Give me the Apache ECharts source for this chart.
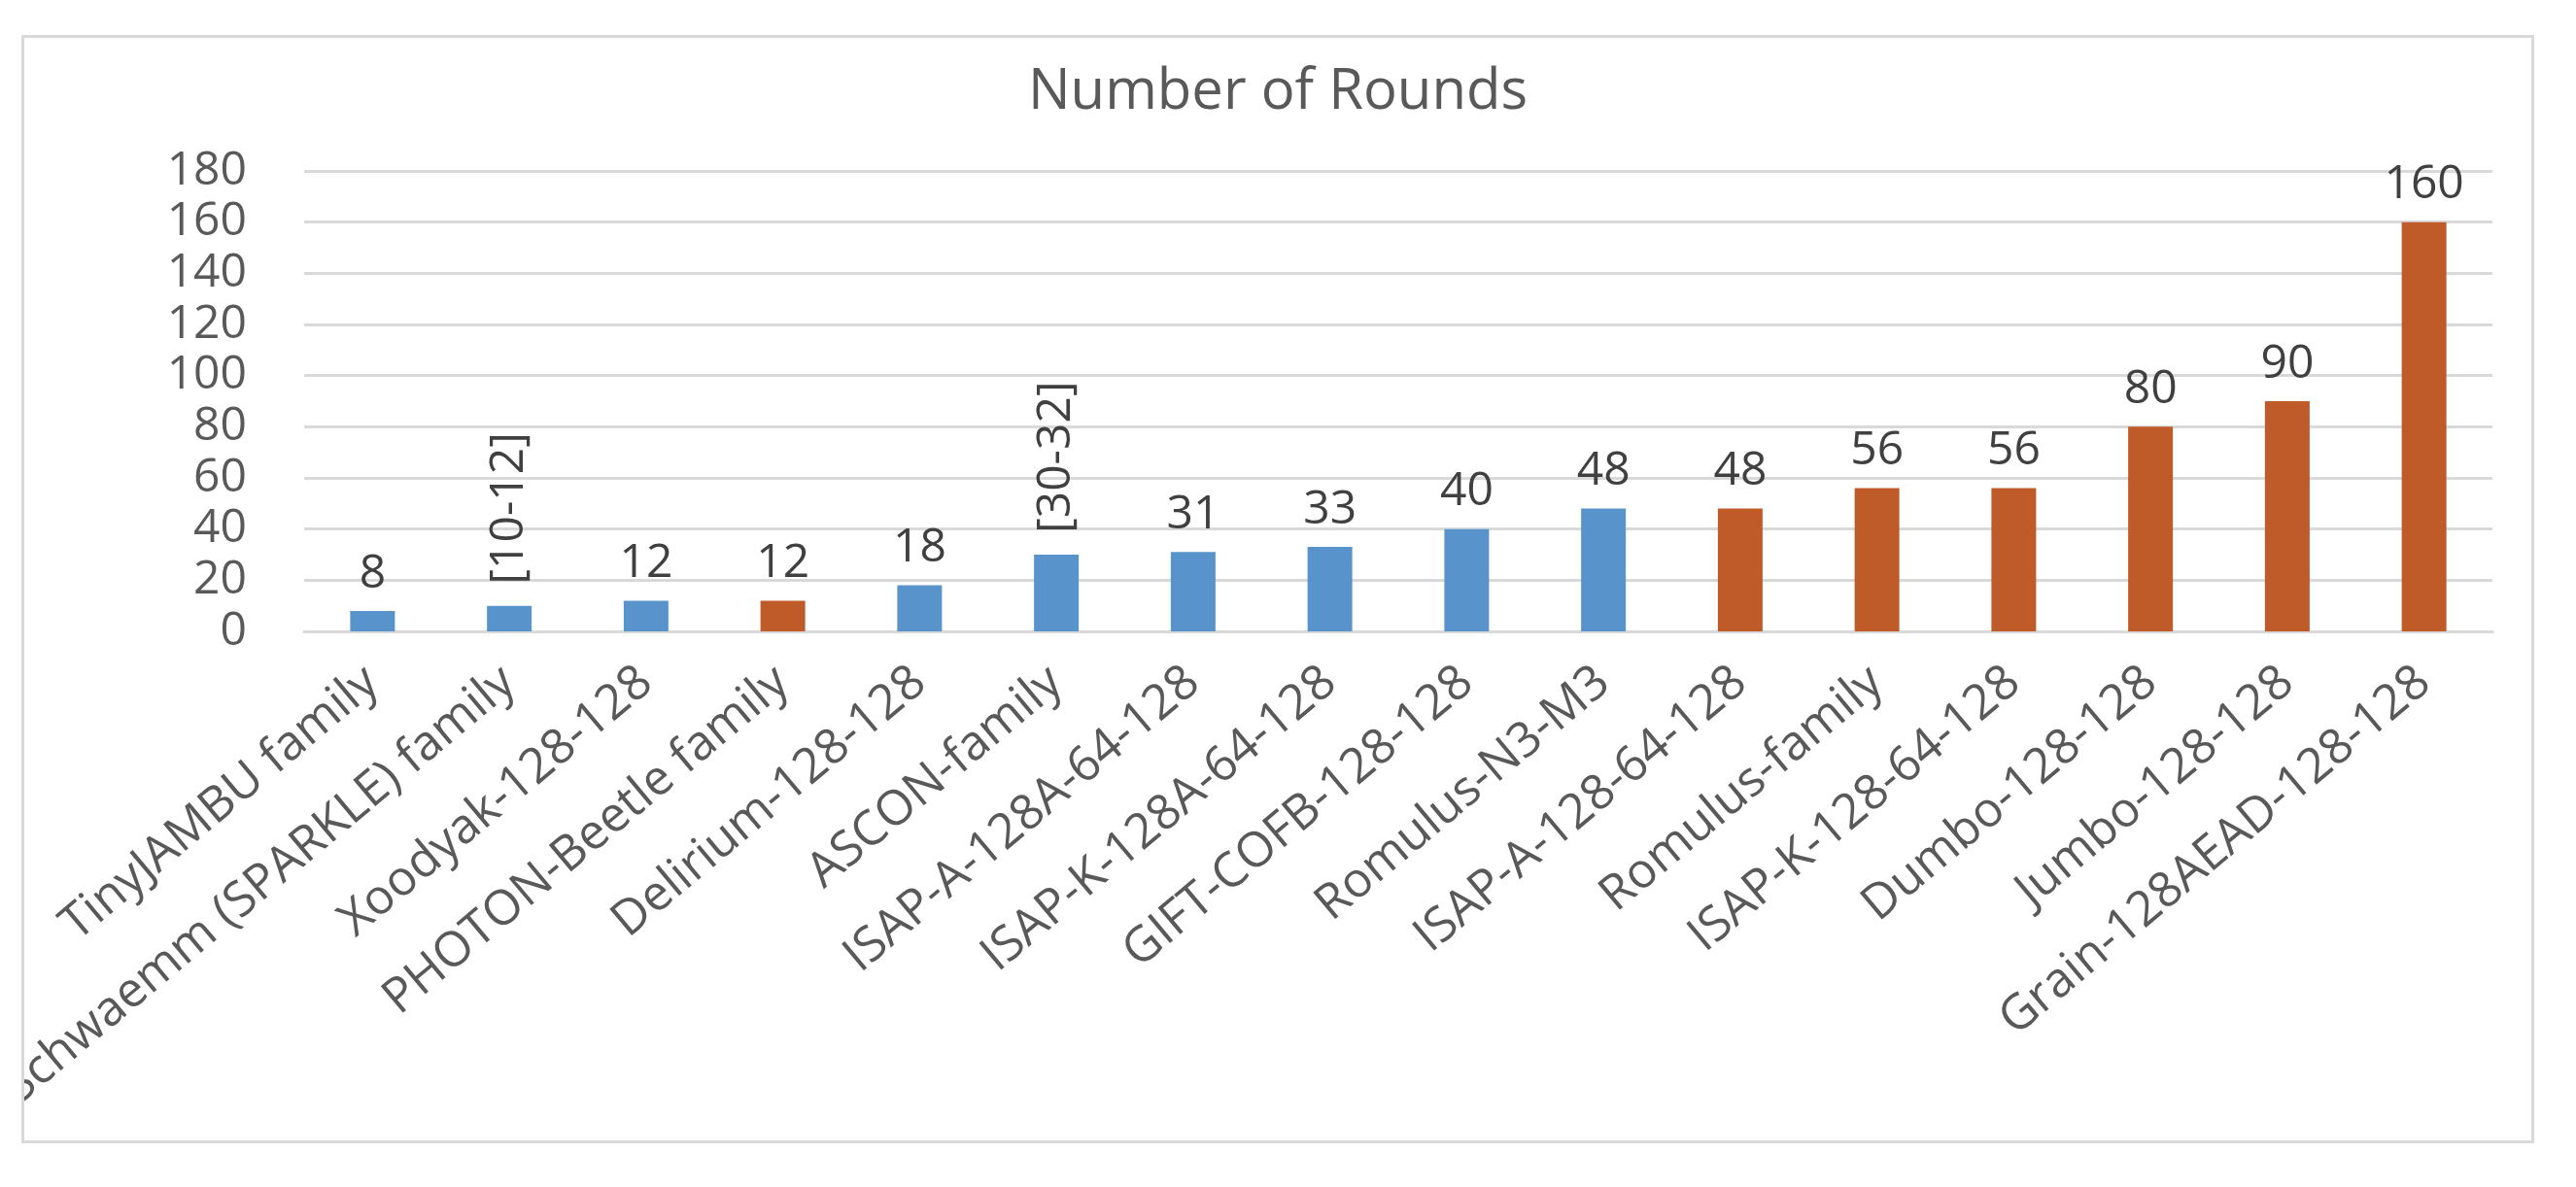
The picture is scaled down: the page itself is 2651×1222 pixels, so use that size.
<!DOCTYPE html>
<html>
<head>
<meta charset="utf-8">
<title>Number of Rounds</title>
<script src="https://cdn.jsdelivr.net/npm/echarts@6/dist/echarts.min.js"></script>
<style>
    html, body { margin: 0; padding: 0; background: #fff; }
    #frame {
        position: absolute; left: 22px; top: 36px;
        width: 2586px; height: 1141px;
        border: 3px solid #d9d9d9; box-sizing: border-box;
        overflow: hidden; background: #fff;
    }
    #chart { width: 100%; height: 100%; }
</style>
</head>
<body>
<div id="frame"><div id="chart"></div></div>
<script>
// categories (x axis)
var categories = [
    'TinyJAMBU family', 'Schwaemm (SPARKLE) family', 'Xoodyak-128-128', 'PHOTON-Beetle family',
    'Delirium-128-128', 'ASCON-family', 'ISAP-A-128A-64-128', 'ISAP-K-128A-64-128',
    'GIFT-COFB-128-128', 'Romulus-N3-M3', 'ISAP-A-128-64-128', 'Romulus-family',
    'ISAP-K-128-64-128', 'Dumbo-128-128', 'Jumbo-128-128', 'Grain-128AEAD-128-128'
];
// blue bars
var roundsBlue = [8, 10, 12, null, 18, 30, 31, 33, 40, 48, null, null, null, null, null, null];
// orange bars
var roundsOrange = [null, null, null, 12, null, null, null, null, null, null, 48, 56, 56, 80, 90, 160];
// text shown above each bar
var valueLabels = ['8', '[10-12]', '12', '12', '18', '[30-32]', '31', '33', '40', '48', '48', '56', '56', '80', '90', '160'];
// y axis
var yMin = 0, yMax = 180, yStep = 20;

var FONT = '"Open Sans", "Noto Sans", sans-serif';

function buildData(values){
    var res = [];
    for(var i = 0; i < values.length; i++){
        var item = { value: values[i] };
        // ranges are written vertically
        if(valueLabels[i].charAt(0) === '['){
            item.label = {
                rotate: 90,
                align: 'left',
                verticalAlign: 'middle',
                distance: 22
            };
        }
        res.push(item);
    }
    return res;
}

function barSeries(name, values, color){
    return {
        name: name,
        type: 'bar',
        stack: 'rounds',
        barWidth: 46,
        itemStyle: { color: color },
        label: {
            show: true,
            position: 'top',
            distance: 14,
            color: '#404040',
            fontFamily: FONT,
            fontSize: 48,
            formatter: function(p){ return valueLabels[p.dataIndex]; }
        },
        emphasis: { disabled: true },
        data: buildData(values)
    };
}

var chart = echarts.init(document.getElementById('chart'));
var option = {
    backgroundColor: '#fff',
    animation: false,
    title: {
        text: 'Number of Rounds',
        left: 'center',
        top: 22,
        textStyle: {
            color: '#595959',
            fontFamily: FONT,
            fontSize: 58,
            fontWeight: 'normal'
        }
    },
    grid: {
        left: 288,
        right: 40,
        top: 137,
        bottom: 524,
        containLabel: false,
        outerBoundsMode: 'none'
    },
    xAxis: {
        type: 'category',
        data: categories,
        axisLine: { show: true, lineStyle: { color: '#d9d9d9', width: 3 } },
        axisTick: { show: false },
        axisLabel: {
            interval: 0,
            rotate: 40,
            margin: 46,
            color: '#595959',
            fontFamily: FONT,
            fontSize: 50
        }
    },
    yAxis: {
        type: 'value',
        min: yMin,
        max: yMax,
        interval: yStep,
        axisLine: { show: false },
        axisTick: { show: false },
        splitLine: { lineStyle: { color: '#d9d9d9', width: 3 } },
        axisLabel: {
            margin: 59,
            color: '#595959',
            fontFamily: FONT,
            fontSize: 48
        }
    },
    series: [
        barSeries('blue', roundsBlue, '#5894CB'),
        barSeries('orange', roundsOrange, '#BF5B28')
    ]
};
chart.setOption(option);
</script>
</body>
</html>
